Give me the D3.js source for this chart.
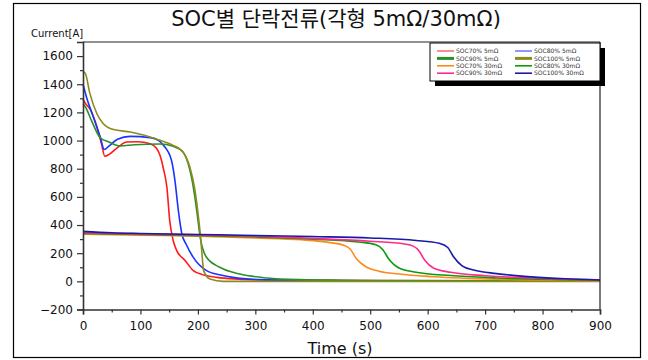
<!DOCTYPE html>
<html>
<head>
<meta charset="utf-8">
<script src="https://cdn.jsdelivr.net/npm/d3@7"></script>
<style>
  body { margin: 0; background: #fff; }
  text { font-family: "DejaVu Sans", "Noto Sans CJK KR", sans-serif; }
</style>
</head>
<body>
<div id="chart"></div>
<script>
// series names and colours (legend order)
const seriesNames = [
    'SOC70% 5mΩ', 'SOC80% 5mΩ', 'SOC90% 5mΩ', 'SOC100% 5mΩ',
    'SOC70% 30mΩ', 'SOC80% 30mΩ', 'SOC90% 30mΩ', 'SOC100% 30mΩ'
];
const seriesColors = [
    '#ff1a1a', '#1a33ff', '#2a8f2a', '#8c8c1e',
    '#ff8a1a', '#0c9a0c', '#ff2a8c', '#1a1aa8'
];

// [time s, current A]
const soc70_5 = [[0,1295],[4,1265],[12,1225],[24,1100],[32,980],[38,888],[45,900],[60,950],[76,990],[95,992],[117,978],[128,945],[134,895],[140,800],[146,670],[151,430],[157,290],[163,220],[178,147],[192,76],[210,45],[233,28],[270,16],[320,10],[400,7],[600,4],[900,2]];
const soc80_5 = [[0,1400],[6,1310],[18,1168],[30,1025],[37,936],[45,960],[60,1010],[82,1030],[117,1021],[132,1000],[140,966],[154,860],[160,717],[166,503],[172,340],[180,260],[192,170],[215,76],[240,45],[261,28],[308,12],[400,6],[600,3],[900,2]];
const soc90_5 = [[0,1260],[4,1240],[15,1140],[30,1020],[45,990],[64,962],[90,970],[134,975],[157,959],[174,919],[183,836],[192,670],[198,503],[204,313],[215,171],[238,100],[273,52],[320,24],[378,12],[450,8],[600,5],[900,3]];
const soc100_5 = [[0,1490],[4,1477],[12,1335],[24,1192],[35,1121],[53,1078],[82,1061],[105,1040],[134,1002],[157,966],[174,919],[186,812],[195,646],[201,456],[205,300],[207,200],[210,76],[221,17],[244,0],[900,0]];
const soc70_30 = [[0,335],[100,328],[200,320],[300,308],[380,295],[430,275],[455,255],[465,230],[476,160],[494,100],[515,72],[550,52],[610,33],[720,15],[900,5]];
const soc80_30 = [[0,340],[100,333],[200,325],[300,315],[400,300],[480,280],[510,260],[522,225],[532,160],[550,95],[580,65],[640,41],[720,24],[900,8]];
const soc90_30 = [[0,345],[100,337],[200,330],[300,320],[400,305],[500,285],[560,265],[575,250],[585,215],[595,150],[610,95],[640,64],[700,40],[780,24],[900,10]];
const soc100_30 = [[0,355],[50,345],[100,340],[200,333],[300,326],[400,318],[500,308],[580,290],[620,270],[635,240],[645,175],[660,110],[680,80],[720,55],[780,32],[840,18],[900,10]];

const seriesData = [soc70_5, soc80_5, soc90_5, soc100_5, soc70_30, soc80_30, soc90_30, soc100_30];

const xTicks = [0, 100, 200, 300, 400, 500, 600, 700, 800, 900];
const yTicks = [-200, 0, 200, 400, 600, 800, 1000, 1200, 1400, 1600];

const width = 648, height = 360;
const plot = { left: 83, right: 600, top: 42, bottom: 309.5 };

const svg = d3.select('#chart')
    .append('svg')
    .attr('width', width)
    .attr('height', height);

// outer frame
svg.append('rect')
    .attr('x', 13.5).attr('y', 3.5)
    .attr('width', 627).attr('height', 354)
    .attr('fill', 'none')
    .attr('stroke', '#000')
    .attr('stroke-width', 1.2);

const x = d3.scaleLinear().domain([0, 900]).range([plot.left, plot.right]);
const y = d3.scaleLinear().domain([-200, 1700]).range([plot.bottom, plot.top]);

// title
svg.append('text')
    .attr('x', 336).attr('y', 26)
    .attr('text-anchor', 'middle')
    .style('font-size', '21px')
    .style('fill', '#111')
    .text('SOC별 단락전류(각형 5mΩ/30mΩ)');

svg.append('text')
    .attr('x', 31).attr('y', 37)
    .style('font-size', '10px')
    .style('fill', '#111')
    .text('Current[A]');

// lines
const line = d3.line()
    .x((d) => x(d[0]))
    .y((d) => y(d[1]))
    .curve(d3.curveMonotoneX);

const lines = svg.append('g');
seriesData.forEach((s, i) => {
    lines.append('path')
        .datum(s)
        .attr('d', line)
        .attr('fill', 'none')
        .attr('stroke', seriesColors[i])
        .attr('stroke-width', 1.6);
});

// box top/right
svg.append('line')
    .attr('x1', plot.left).attr('x2', plot.right)
    .attr('y1', plot.top).attr('y2', plot.top)
    .attr('stroke', '#222').attr('stroke-width', 1);
svg.append('line')
    .attr('x1', plot.right).attr('x2', plot.right)
    .attr('y1', plot.top).attr('y2', plot.bottom)
    .attr('stroke', '#222').attr('stroke-width', 1.2);

// axes
svg.append('g')
    .attr('transform', `translate(0,${plot.bottom})`)
    .call(d3.axisBottom(x).tickValues(xTicks).tickSize(5).tickPadding(7).tickFormat(d3.format('d')));
svg.append('g')
    .attr('transform', `translate(0,${plot.bottom})`)
    .call(d3.axisBottom(x).tickValues(d3.range(50, 900, 100)).tickSize(3).tickFormat(''))
    .call((g) => g.select('.domain').remove());

svg.append('g')
    .attr('transform', `translate(${plot.left},0)`)
    .call(d3.axisLeft(y).tickValues(yTicks).tickSize(6).tickPadding(4).tickFormat(d3.format('d')));
svg.append('g')
    .attr('transform', `translate(${plot.left},0)`)
    .call(d3.axisLeft(y).tickValues(d3.range(-100, 1700, 200)).tickSize(3).tickFormat(''))
    .call((g) => g.select('.domain').remove());

svg.selectAll('.domain').attr('stroke', '#333').attr('stroke-width', 1.6);
svg.selectAll('.tick line').attr('stroke', '#333').attr('stroke-width', 1.2);
svg.selectAll('.tick text')
    .style('font-family', '"DejaVu Sans", sans-serif')
    .style('font-size', '12px')
    .style('fill', '#111');

svg.append('text')
    .attr('x', 340).attr('y', 354)
    .attr('text-anchor', 'middle')
    .style('font-size', '16px')
    .style('fill', '#111')
    .text('Time (s)');

// legend with drop shadow
const legend = svg.append('g').attr('transform', 'translate(430,43)');
legend.append('rect')
    .attr('x', 5).attr('y', 5)
    .attr('width', 170).attr('height', 38)
    .attr('fill', '#000');
legend.append('rect')
    .attr('x', 0).attr('y', 0)
    .attr('width', 170).attr('height', 38)
    .attr('fill', '#fff')
    .attr('stroke', '#000')
    .attr('stroke-width', 1);

const legendWidths = [1, 1, 3, 3, 1.6, 1.6, 1.6, 1.6];
seriesNames.forEach((name, i) => {
    const col = i % 2, row = Math.floor(i / 2);
    const gx = col === 0 ? 7 : 85;
    const gy = 8 + row * 7.4;
    legend.append('line')
        .attr('x1', gx).attr('x2', gx + 17)
        .attr('y1', gy).attr('y2', gy)
        .attr('stroke', seriesColors[i])
        .attr('stroke-width', legendWidths[i]);
    legend.append('text')
        .attr('x', gx + 19).attr('y', gy + 2.2)
        .style('font-size', '6px')
        .style('fill', '#333')
        .text(name);
});
</script>
</body>
</html>
